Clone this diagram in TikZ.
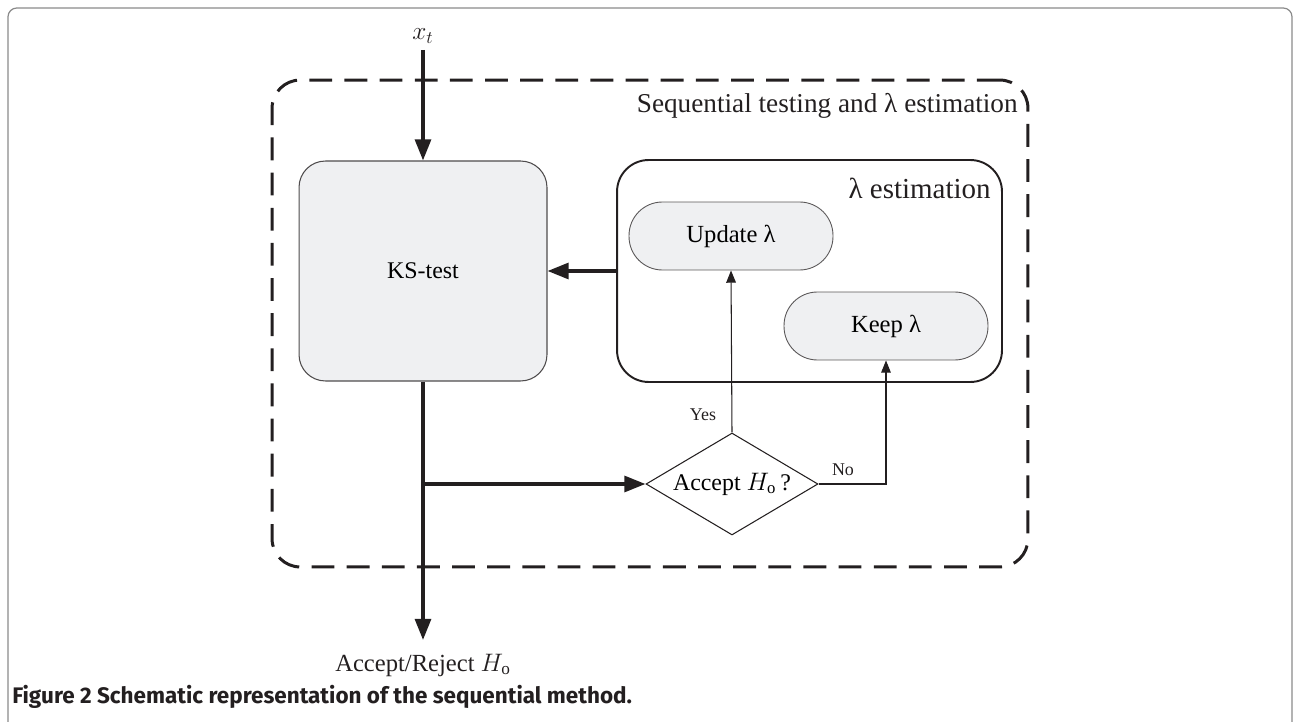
\documentclass[tikz,border=0pt]{standalone}
\usepackage{fontspec}
\setmainfont{Liberation Serif}
\newfontfamily\capfont{Fira Sans}
\usepackage{tikz}
\usetikzlibrary{positioning, shapes.geometric, arrows.meta}

\definecolor{ink}{HTML}{231F20}
\definecolor{boxgray}{HTML}{EFF0F2}
\definecolor{framegray}{HTML}{8A8A8A}

\begin{document}
\begin{tikzpicture}[x=0.02cm,y=-0.02cm,
        block/.style={rectangle,draw=ink!80,fill=boxgray,line width=0.6pt,rounded corners=15pt,
          minimum width=4.96cm,minimum height=4.4cm,font=\fontsize{13.6}{16}\selectfont},
        group/.style={rectangle,draw=ink,line width=1.1pt,rounded corners=18pt},
        pill/.style={rectangle,draw=ink!75,fill=boxgray,line width=0.5pt,rounded corners=19pt,
          minimum width=4.08cm,minimum height=1.36cm,font=\fontsize{14}{16}\selectfont},
        decide/.style={diamond,draw=ink,line width=0.6pt,aspect=1.69,inner sep=1pt,
          minimum width=3.44cm,minimum height=2.04cm,font=\fontsize{13.6}{16}\selectfont},
        thick arrow/.style={draw=ink,line width=2pt,-{Triangle[length=12pt,width=9pt]}},
        thin arrow/.style={draw=ink,line width=0.6pt,-{Triangle[length=7pt,width=5.5pt]}},
        lbl/.style={inner sep=0pt,text=ink}]

        \useasboundingbox (0,0) rectangle (1294,722);
        \draw[framegray,line width=0.7pt,rounded corners=5pt] (8,740) -- (8,8) -- (1292,8) -- (1292,740);

        \node[group,dashed,dash pattern=on 13pt off 7pt,line width=1.7pt,rounded corners=16pt,
              minimum width=15.12cm,minimum height=9.74cm] (seq) at (650,323.5) {};
        \node[lbl,anchor=east,font=\fontsize{15.5}{18}\selectfont] (seqlbl) at (1018,106) {Sequential testing and λ estimation};

        \node[block] (ks) at (423,271) {KS-test};

        \node[group,minimum width=7.7cm,minimum height=4.44cm] (est) at (809.5,271) {};
        \node[lbl,anchor=east,font=\fontsize{16.5}{18}\selectfont] (estlbl) at (991,188) {λ estimation};
        \node[pill] (upd)  at (731,236) {Update λ};
        \node[pill] (keep) at (886,326) {Keep λ};

        \node[decide] (acc) at (732,484) {Accept $H_\mathrm{o}$\,?};

        \node[lbl,font=\fontsize{14}{16}\selectfont] (xt) at (423,36) {$x_t$};
        \node[lbl,font=\fontsize{14}{16}\selectfont] (res) at (423,665) {Accept/Reject $H_\mathrm{o}$};
        \coordinate (xtend) at (423,50);
        \coordinate (split) at (423,484);
        \coordinate (resend) at (423,640);

        \node[lbl,font=\fontsize{10.2}{12}\selectfont] (yes) at (703,415) {Yes};
        \node[lbl,font=\fontsize{10.2}{12}\selectfont] (no)  at (843,470) {No};

        \path
                  (xtend) edge [thick arrow] (ks.north)
                  (est.west) edge [thick arrow] (ks.east)
                  (split) edge [thick arrow] (acc.west)
                  (ks.south) edge [thick arrow] (resend)
                  (acc.north) edge [thin arrow] (upd.south);
        \draw[thin arrow] (acc.east) -| (keep.south);

        \node[lbl,anchor=west,font=\capfont\fontsize{12.8}{15}\selectfont\bfseries] (cap) at (12,697)
              {Figure 2 Schematic representation of the sequential method.};
\end{tikzpicture}
\end{document}
